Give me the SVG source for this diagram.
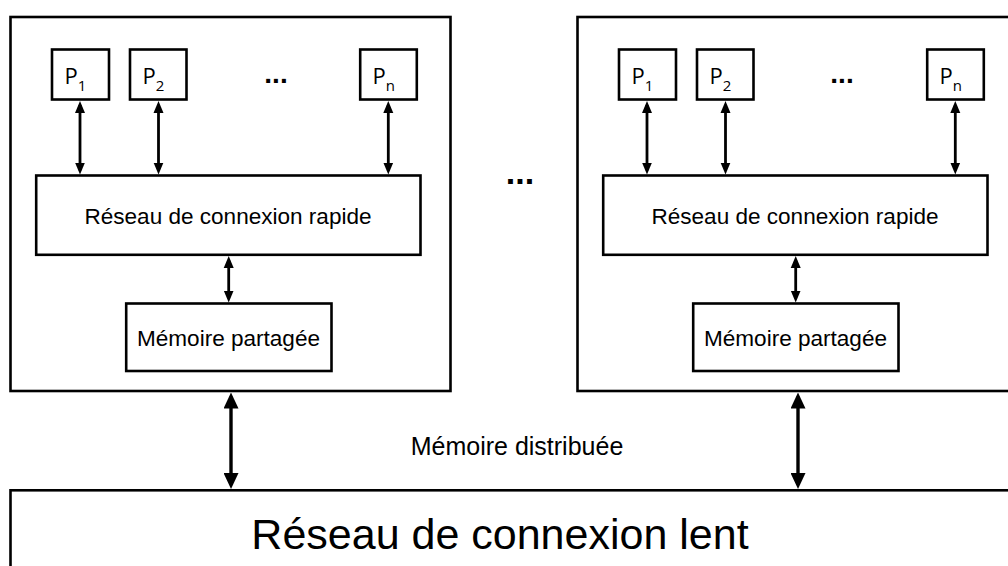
<svg xmlns="http://www.w3.org/2000/svg" width="1008" height="566" viewBox="0 0 1008 566">
  <style>
    .box { fill: #ffffff; stroke: #000000; stroke-width: 2.6; }
    .lbl { font-family: "Liberation Sans", Arial, sans-serif; fill: #000000; text-anchor: middle; }
    .p { font-family: "Open Sans", "Liberation Sans", sans-serif; fill: #000000; font-size: 22px; }
    .dots { font-family: "Liberation Sans", Arial, sans-serif; font-weight: bold; fill: #000000; text-anchor: middle; }
    .conn { stroke: #000000; stroke-width: 2.8; fill: none; marker-start: url(#ah); marker-end: url(#ah); }
    .conn-big { stroke: #000000; stroke-width: 3.4; fill: none; marker-start: url(#ahb); marker-end: url(#ahb); }
  </style>
  <defs>
    <marker id="ah" markerUnits="userSpaceOnUse" markerWidth="12" markerHeight="11" refX="8" refY="5" orient="auto-start-reverse" viewBox="0 0 12 10">
      <path d="M0,0 L12,5 L0,10 z" fill="#000000"/>
    </marker>
    <marker id="ahb" markerUnits="userSpaceOnUse" markerWidth="16" markerHeight="15" refX="12" refY="7.5" orient="auto-start-reverse" viewBox="0 0 16 15">
      <path d="M0,0 L16,7.5 L0,15 z" fill="#000000"/>
    </marker>
  </defs>

  <!-- Left module -->
  <g id="module-left">
    <rect class="box" x="10.5" y="17" width="440" height="374"/>
  </g>
  <g id="left-p1">
    <rect class="box" x="52" y="49.5" width="57" height="50"/>
    <text class="p" x="64.5" y="84">P<tspan font-size="15" dy="7">1</tspan></text>
  </g>
  <g id="left-p2">
    <rect class="box" x="130" y="49.5" width="56.5" height="50"/>
    <text class="p" x="142.5" y="84">P<tspan font-size="15" dy="7">2</tspan></text>
  </g>
  <g id="left-dots">
    <text class="dots" x="276" y="83" font-size="28">...</text>
  </g>
  <g id="left-pn">
    <rect class="box" x="360.2" y="49.5" width="56.6" height="50"/>
    <text class="p" x="372.5" y="84">P<tspan font-size="15" dy="7">n</tspan></text>
  </g>
  <g id="left-rapide">
    <rect class="box" x="36.2" y="175.5" width="384.3" height="79.3"/>
    <text class="lbl" x="228" y="223.5" font-size="22" textLength="287" lengthAdjust="spacingAndGlyphs">Réseau de connexion rapide</text>
  </g>
  <g id="left-memoire">
    <rect class="box" x="126.2" y="303.5" width="205.3" height="67.5"/>
    <text class="lbl" x="228.5" y="346" font-size="22" textLength="183" lengthAdjust="spacingAndGlyphs">Mémoire partagée</text>
  </g>

  <!-- Middle dots -->
  <g id="middle-dots">
    <text class="dots" x="520" y="184" font-size="34">...</text>
  </g>

  <!-- Right module -->
  <g id="module-right">
    <rect class="box" x="577.5" y="17" width="440" height="374"/>
  </g>
  <g id="right-p1">
    <rect class="box" x="619" y="49.5" width="57" height="50"/>
    <text class="p" x="631.5" y="84">P<tspan font-size="15" dy="7">1</tspan></text>
  </g>
  <g id="right-p2">
    <rect class="box" x="697" y="49.5" width="56.5" height="50"/>
    <text class="p" x="709.5" y="84">P<tspan font-size="15" dy="7">2</tspan></text>
  </g>
  <g id="right-dots">
    <text class="dots" x="842" y="83" font-size="28">...</text>
  </g>
  <g id="right-pn">
    <rect class="box" x="927.2" y="49.5" width="56.6" height="50"/>
    <text class="p" x="939.5" y="84">P<tspan font-size="15" dy="7">n</tspan></text>
  </g>
  <g id="right-rapide">
    <rect class="box" x="603.2" y="175.5" width="384.3" height="79.3"/>
    <text class="lbl" x="795" y="223.5" font-size="22" textLength="287" lengthAdjust="spacingAndGlyphs">Réseau de connexion rapide</text>
  </g>
  <g id="right-memoire">
    <rect class="box" x="693.2" y="303.5" width="205.3" height="67.5"/>
    <text class="lbl" x="795.5" y="346" font-size="22" textLength="183" lengthAdjust="spacingAndGlyphs">Mémoire partagée</text>
  </g>

  <!-- Slow network -->
  <g id="reseau-lent">
    <rect class="box" x="10.5" y="490.3" width="1007" height="110"/>
    <text class="lbl" x="500" y="549" font-size="43">Réseau de connexion lent</text>
  </g>

  <g id="label-distribuee">
    <text class="lbl" x="517" y="455" font-size="25">Mémoire distribuée</text>
  </g>

  <!-- Connectors -->
  <g id="connectors">
    <line class="conn" x1="80" y1="105" x2="80" y2="170.5"/>
    <line class="conn" x1="158.5" y1="105" x2="158.5" y2="170.5"/>
    <line class="conn" x1="388.3" y1="105" x2="388.3" y2="170.5"/>
    <line class="conn" x1="228.7" y1="260" x2="228.7" y2="298.5"/>
    <line class="conn" x1="647" y1="105" x2="647" y2="170.5"/>
    <line class="conn" x1="725.5" y1="105" x2="725.5" y2="170.5"/>
    <line class="conn" x1="955.3" y1="105" x2="955.3" y2="170.5"/>
    <line class="conn" x1="795.7" y1="260" x2="795.7" y2="298.5"/>
    <line class="conn-big" x1="231" y1="396.5" x2="231" y2="485"/>
    <line class="conn-big" x1="798" y1="396.5" x2="798" y2="485"/>
  </g>
</svg>
